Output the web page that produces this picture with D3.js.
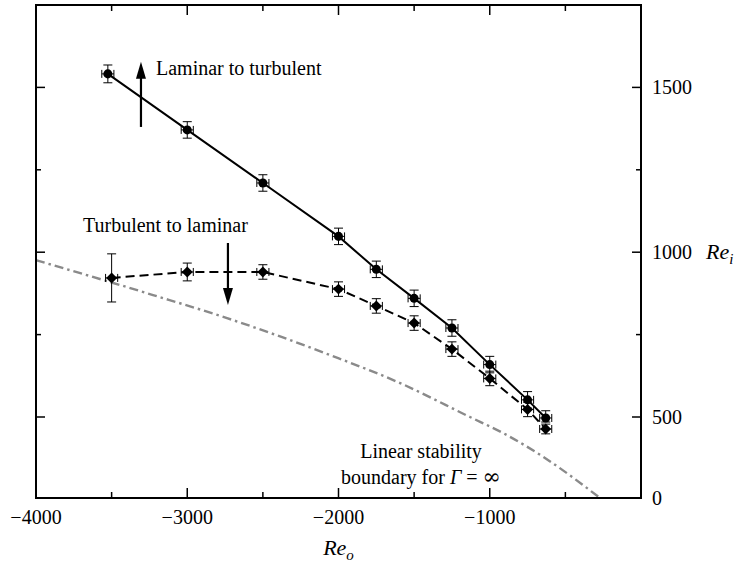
<!DOCTYPE html>
<html>
<head>
<meta charset="utf-8">
<script src="https://cdn.jsdelivr.net/npm/d3@7"></script>
<style>
  html, body { margin: 0; padding: 0; background: #fff; }
  svg text { font-family: "Liberation Serif", "Times New Roman", serif; fill: #000; }
</style>
</head>
<body>
<svg id="chart" width="742" height="563"></svg>
<script>
// ---------------- data ----------------
// Laminar to turbulent (circles, solid line)
const ltReO  = [-3525, -3000, -2500, -2000, -1750, -1500, -1250, -1000, -750, -630];
const ltReI  = [1541, 1371, 1210, 1048, 948, 860, 770, 659, 552, 494];
const ltErrI = [27, 25, 25, 25, 25, 25, 25, 25, 25, 25];
const ltErrO = [40, 40, 40, 40, 40, 40, 40, 40, 40, 40];

// Turbulent to laminar (diamonds, dashed line)
const tlReO  = [-3500, -3000, -2500, -2000, -1750, -1500, -1250, -1000, -750, -630];
const tlReI  = [922, 940, 940, 888, 837, 785, 706, 617, 523, 426];
const tlErrI = [73, 27, 22, 22, 22, 22, 22, 22, 22, 30];
const tlErrO = [40, 40, 40, 40, 40, 40, 40, 40, 40, 40];

// Linear stability boundary for Gamma = infinity
const lsReO = [-4000, -3226, -2737, -2056, -1593, -1131, -912, -635, -271];
const lsReI = [976, 870, 800, 688, 603, 500, 401, 247, 0];

// axes
const xTicksMajor = [-4000, -3000, -2000, -1000, 0];
const xTicksMinor = [-3500, -2500, -1500, -500];
const xTickLabels = ["\u22124000", "\u22123000", "\u22122000", "\u22121000", ""];
const yTicksMajor = [0, 500, 1000, 1500];
const yTicksMinor = [750, 1250];
const yTickLabels = ["0", "500", "1000", "1500"];

// ---------------- layout ----------------
const svg = d3.select("#chart");
const L = 36, R = 641, T = 5, B = 498;

const x = d3.scaleLinear().domain([-4000, 0]).range([L, R]);
// piecewise axis exactly as labelled in the figure
const y = d3.scaleLinear().domain([0, 500, 1750]).range([B, 417, T]);

const FS = 20;

// ---------------- stability boundary ----------------
const ls = lsReO.map((v, i) => [v, lsReI[i]]);
svg.append("path")
  .attr("d", d3.line().x(d => x(d[0])).y(d => y(d[1])).curve(d3.curveMonotoneX)(ls))
  .attr("fill", "none")
  .attr("stroke", "#8a8a8a")
  .attr("stroke-width", 2.4)
  .attr("stroke-dasharray", "9,4,2.5,4");

// ---------------- series lines ----------------
const lt = ltReO.map((v, i) => ({o: v, i: ltReI[i], eo: ltErrO[i], ei: ltErrI[i]}));
const tl = tlReO.map((v, i) => ({o: v, i: tlReI[i], eo: tlErrO[i], ei: tlErrI[i]}));

const line = d3.line().x(d => x(d.o)).y(d => y(d.i));
svg.append("path").attr("d", line(lt))
  .attr("fill", "none").attr("stroke", "#000").attr("stroke-width", 2);
svg.append("path").attr("d", line(tl))
  .attr("fill", "none").attr("stroke", "#000").attr("stroke-width", 2)
  .attr("stroke-dasharray", "9,5");

// ---------------- error bars & markers ----------------
function errorBars(data) {
  const g = svg.append("g").attr("stroke", "#000").attr("stroke-width", 1).attr("fill", "none");
  data.forEach(d => {
    const cx = x(d.o), cy = y(d.i);
    const y1 = y(d.i + d.ei), y2 = y(d.i - d.ei);
    const x1 = x(d.o - d.eo), x2 = x(d.o + d.eo);
    g.append("line").attr("x1", cx).attr("x2", cx).attr("y1", y1).attr("y2", y2);
    g.append("line").attr("x1", cx - 4.5).attr("x2", cx + 4.5).attr("y1", y1).attr("y2", y1);
    g.append("line").attr("x1", cx - 4.5).attr("x2", cx + 4.5).attr("y1", y2).attr("y2", y2);
    g.append("line").attr("x1", x1).attr("x2", x2).attr("y1", cy).attr("y2", cy);
    g.append("line").attr("x1", x1).attr("x2", x1).attr("y1", cy - 4).attr("y2", cy + 4);
    g.append("line").attr("x1", x2).attr("x2", x2).attr("y1", cy - 4).attr("y2", cy + 4);
  });
}
errorBars(lt);
errorBars(tl);

svg.append("g").selectAll("path").data(lt).join("path")
  .attr("d", d3.symbol(d3.symbolCircle, 64))
  .attr("transform", d => `translate(${x(d.o)},${y(d.i)})`)
  .attr("fill", "#000");
svg.append("g").selectAll("path").data(tl).join("path")
  .attr("d", d3.symbol(d3.symbolSquare, 60))
  .attr("transform", d => `translate(${x(d.o)},${y(d.i)}) rotate(45)`)
  .attr("fill", "#000");

// ---------------- frame & ticks ----------------
const frame = svg.append("g").attr("stroke", "#000").attr("fill", "none");
frame.append("rect").attr("x", L).attr("y", T).attr("width", R - L).attr("height", B - T)
  .attr("stroke-width", 2);

const tk = svg.append("g").attr("stroke", "#000").attr("stroke-width", 1.5);
xTicksMajor.forEach(v => {
  tk.append("line").attr("x1", x(v)).attr("x2", x(v)).attr("y1", B).attr("y2", B - 10);
  tk.append("line").attr("x1", x(v)).attr("x2", x(v)).attr("y1", T).attr("y2", T + 10);
});
xTicksMinor.forEach(v => {
  tk.append("line").attr("x1", x(v)).attr("x2", x(v)).attr("y1", B).attr("y2", B - 6);
  tk.append("line").attr("x1", x(v)).attr("x2", x(v)).attr("y1", T).attr("y2", T + 6);
});
yTicksMajor.forEach(v => {
  tk.append("line").attr("x1", R).attr("x2", R - 9).attr("y1", y(v)).attr("y2", y(v));
  tk.append("line").attr("x1", L).attr("x2", L + 9).attr("y1", y(v)).attr("y2", y(v));
});
yTicksMinor.forEach(v => {
  tk.append("line").attr("x1", R).attr("x2", R - 5).attr("y1", y(v)).attr("y2", y(v));
  tk.append("line").attr("x1", L).attr("x2", L + 5).attr("y1", y(v)).attr("y2", y(v));
});

// tick labels
svg.append("g").selectAll("text").data(xTicksMajor).join("text")
  .attr("x", d => x(d)).attr("y", B + 26)
  .attr("text-anchor", "middle").attr("font-size", FS)
  .text((d, i) => xTickLabels[i]);
svg.append("g").selectAll("text").data(yTicksMajor).join("text")
  .attr("x", R + 11).attr("y", d => y(d) + 7)
  .attr("text-anchor", "start").attr("font-size", FS)
  .text((d, i) => yTickLabels[i]);

// axis titles
const xt = svg.append("text").attr("x", x(-2000)).attr("y", 555)
  .attr("text-anchor", "middle").attr("font-size", 22).attr("font-style", "italic");
xt.append("tspan").text("Re");
xt.append("tspan").attr("font-size", 15).attr("dy", 5).text("o");

const yt = svg.append("text").attr("x", 706).attr("y", y(1000) + 7)
  .attr("text-anchor", "start").attr("font-size", 22).attr("font-style", "italic");
yt.append("tspan").text("Re");
yt.append("tspan").attr("font-size", 15).attr("dy", 5).text("i");

// ---------------- annotations ----------------
function arrow(reO, fromI, toI) {
  const ax = x(reO), y0 = y(fromI), y1 = y(toI);
  const dir = y1 < y0 ? 1 : -1;
  const headLen = 17, headHalf = 5;
  svg.append("line").attr("x1", ax).attr("x2", ax).attr("y1", y0).attr("y2", y1 + dir * headLen * 0.6)
    .attr("stroke", "#000").attr("stroke-width", 2.2);
  svg.append("path")
    .attr("d", `M${ax},${y1} L${ax - headHalf},${y1 + dir * headLen} L${ax + headHalf},${y1 + dir * headLen} Z`)
    .attr("fill", "#000");
}
arrow(-3306, 1380, 1578);
arrow(-2731, 1028, 840);

svg.append("text").attr("x", 156).attr("y", 75).attr("font-size", FS).text("Laminar to turbulent");
svg.append("text").attr("x", 83).attr("y", 232).attr("font-size", FS).text("Turbulent to laminar");

svg.append("text").attr("x", 421).attr("y", 458).attr("text-anchor", "middle").attr("font-size", FS)
  .text("Linear stability");
const lb = svg.append("text").attr("x", 421).attr("y", 484).attr("text-anchor", "middle").attr("font-size", FS);
lb.append("tspan").text("boundary for ");
lb.append("tspan").attr("font-style", "italic").text("\u0393");
lb.append("tspan").text(" = ");
lb.append("tspan").attr("font-family", "DejaVu Serif").attr("font-size", 22).text("\u221E");
</script>
</body>
</html>
